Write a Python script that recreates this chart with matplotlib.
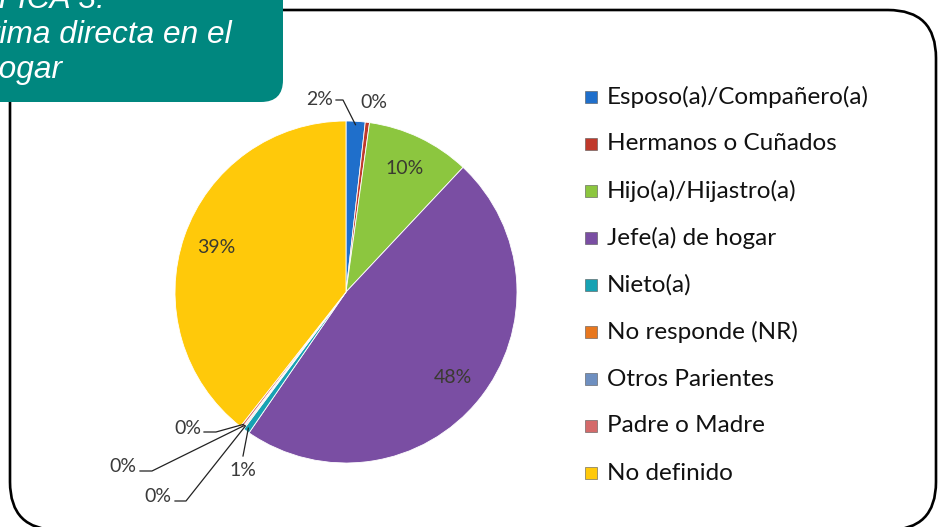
import numpy as np
import matplotlib
matplotlib.use("Agg")
import matplotlib.pyplot as plt
from matplotlib.patches import FancyBboxPatch, Rectangle

# data
categories = ["Esposo(a)/Compañero(a)", "Hermanos o Cuñados", "Hijo(a)/Hijastro(a)",
              "Jefe(a) de hogar", "Nieto(a)", "No responde (NR)", "Otros Parientes",
              "Padre o Madre", "No definido"]
shares = [1.8, 0.4, 9.8, 47.6, 0.6, 0.1, 0.1, 0.2, 39.4]
colors = ["#1f6fcb", "#c0392b", "#8cc63f", "#7a4ea3", "#17a2b3",
          "#e8771e", "#6e8fc0", "#d46a6a", "#ffc90a"]
title_lines = ["GRÁFICA 3:", "Víctima directa en el", "hogar"]

W, H = 939, 527
fig = plt.figure(figsize=(W / 100, H / 100), dpi=100)

# background axes in pixel units (y measured from the bottom)
bg = fig.add_axes([0, 0, 1, 1])
bg.set_xlim(0, W)
bg.set_ylim(0, H)
bg.axis("off")


def up(y):
    # pixel row from top -> axes y
    return H - y


frame = FancyBboxPatch((10, up(530)), 926, 520, boxstyle="round,pad=0,rounding_size=48",
                       fill=False, edgecolor="black", linewidth=1.9)
bg.add_patch(frame)
head = FancyBboxPatch((-40, up(102)), 323, 142, boxstyle="round,pad=0,rounding_size=22",
                      facecolor="#00877f", edgecolor="none", zorder=3)
bg.add_patch(head)
for (txt, xr, yb) in zip(title_lines, [105, 232, 62], [8, 43, 78]):
    bg.text(xr, up(yb), txt, ha="right", va="baseline", color="white", style="italic",
            family="Liberation Sans", fontsize=22.8, zorder=4)

# legend
for i, (lab, col) in enumerate(zip(categories, colors)):
    y = up(97 + i * 47)
    bg.add_patch(Rectangle((585, y - 6), 12, 12, facecolor=col, edgecolor="#555555", linewidth=0.4))
    bg.text(607, y, lab, ha="left", va="center", fontsize=17.5, family="Lato", color="#111111")

# pie
cx, cy, R = 346, 292, 171
pax = fig.add_axes([(cx - R) / W, (H - cy - R) / H, 2 * R / W, 2 * R / H])
wedges, _ = pax.pie(shares, colors=colors, startangle=90, counterclock=False, radius=1,
                    wedgeprops=dict(edgecolor="white", linewidth=0.6))
pax.set_xlim(-1, 1)
pax.set_ylim(-1, 1)
pax.set_aspect("equal")
pax.axis("off")


def to_pie(x, y):
    return (x - cx) / R, (cy - y) / R


def wedge_point(w, r=0.98):
    a = np.deg2rad((w.theta1 + w.theta2) / 2)
    return r * np.cos(a), r * np.sin(a)


pct = ["%d%%" % round(v) for v in shares]

# big slices: labels inside
for i in [2, 3, 8]:
    a = np.deg2rad((wedges[i].theta1 + wedges[i].theta2) / 2)
    pax.text(0.8 * np.cos(a), 0.8 * np.sin(a), pct[i], ha="center", va="center",
             fontsize=14, family="Lato", color="#3a3a30")

# small slices: labels outside with leader lines (pixel layout)
outside = {
    0: ((333, 99), [(336, 100), (343, 100)], "right"),
    1: ((374, 102), [], "center"),
    7: ((201, 428), [(204, 432), (216, 432)], "right"),
    6: ((136, 467), [(140, 471), (152, 471)], "right"),
    5: ((171, 497), [(175, 501), (186, 501)], "right"),
    4: ((243, 471), [(243, 456)], "center"),
}
for i, (txy, pts, ha) in outside.items():
    tx, ty = to_pie(*txy)
    pax.text(tx, ty, pct[i], ha=ha, va="center", fontsize=14, family="Lato",
             color="#3a3a3a", clip_on=False)
    if pts:
        line = [to_pie(*p) for p in pts] + [wedge_point(wedges[i])]
        xs, ys = zip(*line)
        pax.plot(xs, ys, color="#222222", linewidth=0.9, clip_on=False)

fig.savefig("out.png", dpi=100)
